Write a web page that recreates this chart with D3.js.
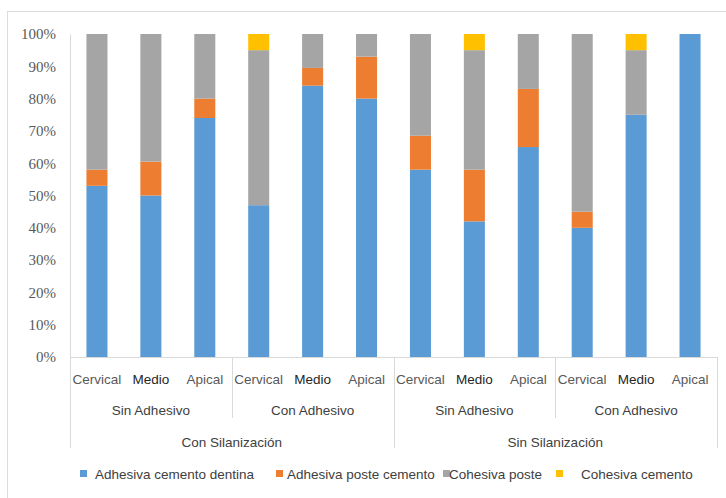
<!DOCTYPE html>
<html>
<head>
<meta charset="utf-8">
<script src="https://cdn.jsdelivr.net/npm/d3@7"></script>
<style>
  body { margin: 0; background: #fff; }
  svg { display: block; }
  .ytick text { font-family: "Liberation Serif", "DejaVu Serif", serif !important; }
</style>
</head>
<body>
<div id="chart"></div>
<script>
// categories, three levels
const zonas = ["Cervical", "Medio", "Apical", "Cervical", "Medio", "Apical",
               "Cervical", "Medio", "Apical", "Cervical", "Medio", "Apical"];
const adhesivo = ["Sin Adhesivo", "Con Adhesivo", "Sin Adhesivo", "Con Adhesivo"];
const silanizacion = ["Con Silanización", "Sin Silanización"];

// series (% of each bar)
const seriesNames = ["Adhesiva cemento dentina", "Adhesiva poste cemento", "Cohesiva poste", "Cohesiva cemento"];
const adhesivaDentina = [53, 50, 74, 47, 84, 80, 58, 42, 65, 40, 75, 100];
const adhesivaPoste   = [5, 10.5, 6, 0, 5.5, 13, 10.5, 16, 18, 5, 0, 0];
const cohesivaPoste   = [42, 39.5, 20, 48, 10.5, 7, 31.5, 37, 17, 55, 20, 0];
const cohesivaCemento = [0, 0, 0, 5, 0, 0, 0, 5, 0, 0, 5, 0];

const yTicks = [0, 10, 20, 30, 40, 50, 60, 70, 80, 90, 100];
const colors = ["#5b9bd5", "#ed7d31", "#a5a5a5", "#ffc000"];

const width = 726, height = 498;
const dim = { left: 70, right: 717, top: 34, bottom: 357 };

const rows = zonas.map(function (z, i) {
  return {
    idx: i,
    s0: adhesivaDentina[i],
    s1: adhesivaPoste[i],
    s2: cohesivaPoste[i],
    s3: cohesivaCemento[i]
  };
});

const svg = d3.select("#chart")
  .append("svg")
  .attr("width", width)
  .attr("height", height);

// outer frame
svg.append("rect")
  .attr("x", 7.5).attr("y", 11.5)
  .attr("width", 740).attr("height", 500)
  .attr("fill", "none")
  .attr("stroke", "#dcdcdc");

const x = d3.scaleBand()
  .domain(d3.range(zonas.length))
  .range([dim.left, dim.right])
  .paddingInner(0.61)
  .paddingOuter(0.305);

const y = d3.scaleLinear().domain([0, 100]).range([dim.bottom, dim.top]);

// y axis labels
svg.append("g")
  .attr("class", "ytick")
  .attr("transform", "translate(" + dim.left + ",0)")
  .call(d3.axisLeft(y).tickValues(yTicks).tickSize(0).tickPadding(14)
    .tickFormat(function (d) { return d + "%"; }))
  .call(function (g) { g.select(".domain").attr("stroke", "#d9d9d9"); })
  .selectAll("text")
  .style("font-size", "15px")
  .attr("fill", "#595959");

// stacked bars
const stack = d3.stack().keys(["s0", "s1", "s2", "s3"]);
const stacked = stack(rows);

svg.append("g")
  .selectAll("g")
  .data(stacked)
  .enter()
  .append("g")
  .attr("fill", function (d, i) { return colors[i]; })
  .selectAll("rect")
  .data(function (d) { return d; })
  .enter()
  .append("rect")
  .attr("x", function (d) { return x(d.data.idx); })
  .attr("y", function (d) { return y(d[1]); })
  .attr("width", x.bandwidth())
  .attr("height", function (d) { return y(d[0]) - y(d[1]); });

// x axis line
svg.append("line")
  .attr("x1", dim.left).attr("x2", dim.right)
  .attr("y1", dim.bottom + 0.5).attr("y2", dim.bottom + 0.5)
  .attr("stroke", "#d9d9d9");

const axisG = svg.append("g").attr("font-family", "'Liberation Sans', Arial, sans-serif");

// level 1 labels
axisG.selectAll("text.zona")
  .data(zonas)
  .enter()
  .append("text")
  .attr("class", "zona")
  .attr("x", function (d, i) { return x(i) + x.bandwidth() / 2; })
  .attr("y", 384)
  .attr("text-anchor", "middle")
  .attr("font-size", 13.5)
  .attr("fill", function (d) { return d === "Medio" ? "#262626" : "#595959"; })
  .text(function (d) { return d; });

// level 2 labels
const groupW = (dim.right - dim.left) / adhesivo.length;
axisG.selectAll("text.adh")
  .data(adhesivo)
  .enter()
  .append("text")
  .attr("class", "adh")
  .attr("x", function (d, i) { return dim.left + groupW * (i + 0.5); })
  .attr("y", 415)
  .attr("text-anchor", "middle")
  .attr("font-size", 13.5)
  .attr("fill", "#404040")
  .text(function (d) { return d; });

// level 3 labels
const bigW = (dim.right - dim.left) / silanizacion.length;
axisG.selectAll("text.sil")
  .data(silanizacion)
  .enter()
  .append("text")
  .attr("class", "sil")
  .attr("x", function (d, i) { return dim.left + bigW * (i + 0.5); })
  .attr("y", 447)
  .attr("text-anchor", "middle")
  .attr("font-size", 13.5)
  .attr("fill", "#404040")
  .text(function (d) { return d; });

// separators
const shortSeps = d3.range(1, adhesivo.length).filter(function (i) { return i % 2 === 1; });
axisG.selectAll("line.short")
  .data(shortSeps)
  .enter()
  .append("line")
  .attr("x1", function (i) { return Math.round(dim.left + groupW * i) + 0.5; })
  .attr("x2", function (i) { return Math.round(dim.left + groupW * i) + 0.5; })
  .attr("y1", dim.bottom).attr("y2", 418)
  .attr("stroke", "#d9d9d9");

axisG.selectAll("line.long")
  .data(d3.range(0, silanizacion.length + 1))
  .enter()
  .append("line")
  .attr("x1", function (i) { return Math.round(dim.left + bigW * i) + 0.5; })
  .attr("x2", function (i) { return Math.round(dim.left + bigW * i) + 0.5; })
  .attr("y1", dim.bottom).attr("y2", 448)
  .attr("stroke", "#d9d9d9");

// legend
const legendX = [80, 276, 443, 556];
const legendTextX = [95, 287, 449, 581];
const legend = svg.append("g").attr("font-family", "'Liberation Sans', Arial, sans-serif");
seriesNames.forEach(function (name, i) {
  legend.append("rect")
    .attr("x", legendX[i]).attr("y", 470)
    .attr("width", 7).attr("height", 7)
    .attr("fill", colors[i]);
  legend.append("text")
    .attr("x", legendTextX[i]).attr("y", 478.5)
    .attr("font-size", 13.5)
    .attr("fill", "#404040")
    .text(name);
});
</script>
</body>
</html>
